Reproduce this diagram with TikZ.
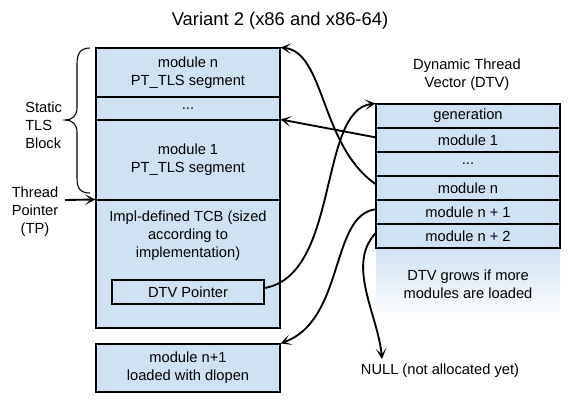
\documentclass[tikz,border=0pt]{standalone}
\usepackage{fontspec}
\setmainfont{Liberation Sans}
\usetikzlibrary{arrows.meta}
\definecolor{boxblue}{HTML}{CFE2F3}
\tikzset{
  cell/.style={draw=black, line width=0.8pt, fill=boxblue, inner sep=0pt,
    minimum width=138pt, align=center, font=\fontsize{11}{13.5}\selectfont},
  lbl/.style={inner sep=0pt, align=center, font=\fontsize{11}{13.5}\selectfont},
  conn/.style={line width=1.4pt, -{Stealth[length=8pt,width=8pt,inset=4.5pt]}},
}
\begin{document}
\begin{tikzpicture}[x=0.75pt, y=-0.75pt]
\useasboundingbox (0,0) rectangle (572,408);
% title
\node[lbl, font=\fontsize{13.8}{16}\selectfont] (title) at (280,21) {Variant 2 (x86 and x86-64)};
% left stack
\node[cell, minimum height=36.75pt] (modn) at (188,72.5) {module n\\PT\_TLS segment};
\node[cell, minimum height=17.25pt] (ldots) at (188,108.5) {...};
\node[cell, minimum height=60pt] (mod1) at (188,160) {module 1\\PT\_TLS segment};
\node[cell, minimum height=96pt] (tcb) at (188,264) {};
\node[lbl] (tcbtext) at (188,236) {Impl-defined TCB (sized\\according to\\implementation)};
\node[cell, minimum width=114pt, minimum height=18pt] (dtvp) at (188,292) {DTV Pointer};
\node[cell, minimum height=36pt] (newmod) at (188,368) {module n+1\\loaded with dlopen};
% brace and labels
\draw[line width=0.8pt] (90,48) .. controls (80,48) and (77,54) .. (77,64) -- (77,108)
  .. controls (77,116) and (72,120) .. (65,120)
  .. controls (72,120) and (77,124) .. (77,132) -- (77,178)
  .. controls (77,188) and (80,193) .. (90,193);
\node[lbl, align=left, anchor=west] (static) at (25,125) {Static\\TLS\\Block};
\node[lbl] (tp) at (35,212) {Thread\\Pointer\\(TP)};
\coordinate (tpstart) at (65,200);
\draw[conn] (tpstart) -- (tcb.north west);
% DTV
\shade[top color=boxblue, bottom color=white] (376,247) rectangle (560,320);
\node[lbl] (dtvlabel) at (467,75) {Dynamic Thread\\Vector (DTV)};
\node[cell, minimum height=18pt] (gen) at (468,116) {generation};
\node[cell, minimum height=18pt] (dm1) at (468,140) {module 1};
\node[cell, minimum height=18pt] (ddots) at (468,164) {...};
\node[cell, minimum height=18pt] (dmn) at (468,188) {module n};
\node[cell, minimum height=18pt] (dmn1) at (468,212) {module n + 1};
\node[cell, minimum height=18pt] (dmn2) at (468,236) {module n + 2};
\node[lbl] (grows) at (468,284) {DTV grows if more\\modules are loaded};
\node[lbl] (null) at (440,371) {NULL (not allocated yet)};
\coordinate (nullend) at (382,359);
% connectors
\draw[conn] ([yshift=3pt]dmn.west) .. controls (320,145) and (325,52) .. (modn.north east);
\draw[conn] ([yshift=2pt]dm1.west) -- (mod1.north east);
\draw[conn] ([yshift=3pt]dtvp.east) .. controls (340,275) and (318,110) .. (gen.north west);
\draw[conn] ([yshift=2pt]dmn1.west) .. controls (330,215) and (345,320) .. (newmod.north east);
\draw[conn] ([yshift=2pt]dmn2.west) .. controls (346,265) and (378,315) .. (nullend);
\end{tikzpicture}
\end{document}
